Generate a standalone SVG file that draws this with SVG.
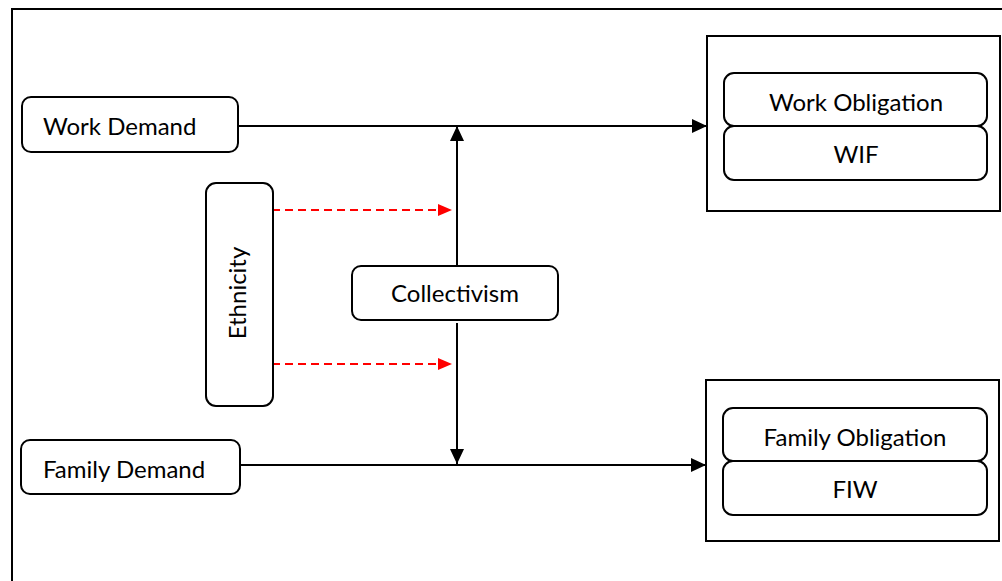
<svg xmlns="http://www.w3.org/2000/svg" width="1002" height="581" viewBox="0 0 1002 581">
<style>
.box{fill:#fff;stroke:#000;stroke-width:2}
.frame{fill:none;stroke:#000;stroke-width:2}
.t{font-family:Lato,"Liberation Sans",sans-serif;font-size:24px;fill:#000}
.c{text-anchor:middle}
.ln{stroke:#000;stroke-width:2;fill:none}
.dash{stroke:#f00;stroke-width:2;stroke-dasharray:8,5;fill:none}
</style>
<defs>
<marker id="ab" markerWidth="15" markerHeight="14" refX="15" refY="7" orient="auto" markerUnits="userSpaceOnUse" viewBox="0 0 15 14"><path d="M0,0 L15,7 L0,14 Z" fill="#000"/></marker>
<marker id="ar" markerWidth="14" markerHeight="12" refX="14" refY="6" orient="auto" markerUnits="userSpaceOnUse" viewBox="0 0 14 12"><path d="M0,0 L14,6 L0,12 Z" fill="#f00"/></marker>
</defs>
<rect x="0" y="0" width="1002" height="581" fill="#fff"/>
<rect class="frame" x="12" y="9" width="1010" height="600"/>
<g id="connectors">
<path class="ln" d="M238,126 H707" marker-end="url(#ab)"/>
<path class="ln" d="M240,465 H706" marker-end="url(#ab)"/>
<path class="ln" d="M457,266 V126" marker-end="url(#ab)"/>
<path class="ln" d="M457,323 V464" marker-end="url(#ab)"/>
<path class="dash" d="M272,210 H452" marker-end="url(#ar)"/>
<path class="dash" d="M272,364 H452" marker-end="url(#ar)"/>
</g>
<g id="work-demand">
<rect class="box" x="22" y="97" width="216" height="55" rx="9"/>
<text class="t" x="43" y="135">Work Demand</text>
</g>
<g id="family-demand">
<rect class="box" x="21" y="440" width="219" height="54" rx="9"/>
<text class="t" x="43" y="478">Family Demand</text>
</g>
<g id="ethnicity">
<rect class="box" x="206" y="183" width="67" height="223" rx="10"/>
<text class="t c" transform="translate(246,293) rotate(-90)">Ethnicity</text>
</g>
<g id="collectivism">
<rect class="box" x="352" y="266" width="206" height="54" rx="9"/>
<text class="t c" x="455" y="302">Collectivism</text>
</g>
<g id="work-outcomes">
<rect class="box" x="707" y="36" width="293" height="175"/>
<g id="work-obligation">
<rect class="box" x="724" y="73" width="263" height="53" rx="10"/>
<text class="t c" x="856" y="111">Work Obligation</text>
</g>
<g id="wif">
<rect class="box" x="724" y="126" width="263" height="54" rx="10"/>
<text class="t c" x="856" y="163">WIF</text>
</g>
</g>
<g id="family-outcomes">
<rect class="box" x="706" y="380" width="293" height="161"/>
<g id="family-obligation">
<rect class="box" x="723" y="408" width="264" height="53" rx="10"/>
<text class="t c" x="855" y="446">Family Obligation</text>
</g>
<g id="fiw">
<rect class="box" x="723" y="461" width="264" height="54" rx="10"/>
<text class="t c" x="855" y="498">FIW</text>
</g>
</g>
</svg>
